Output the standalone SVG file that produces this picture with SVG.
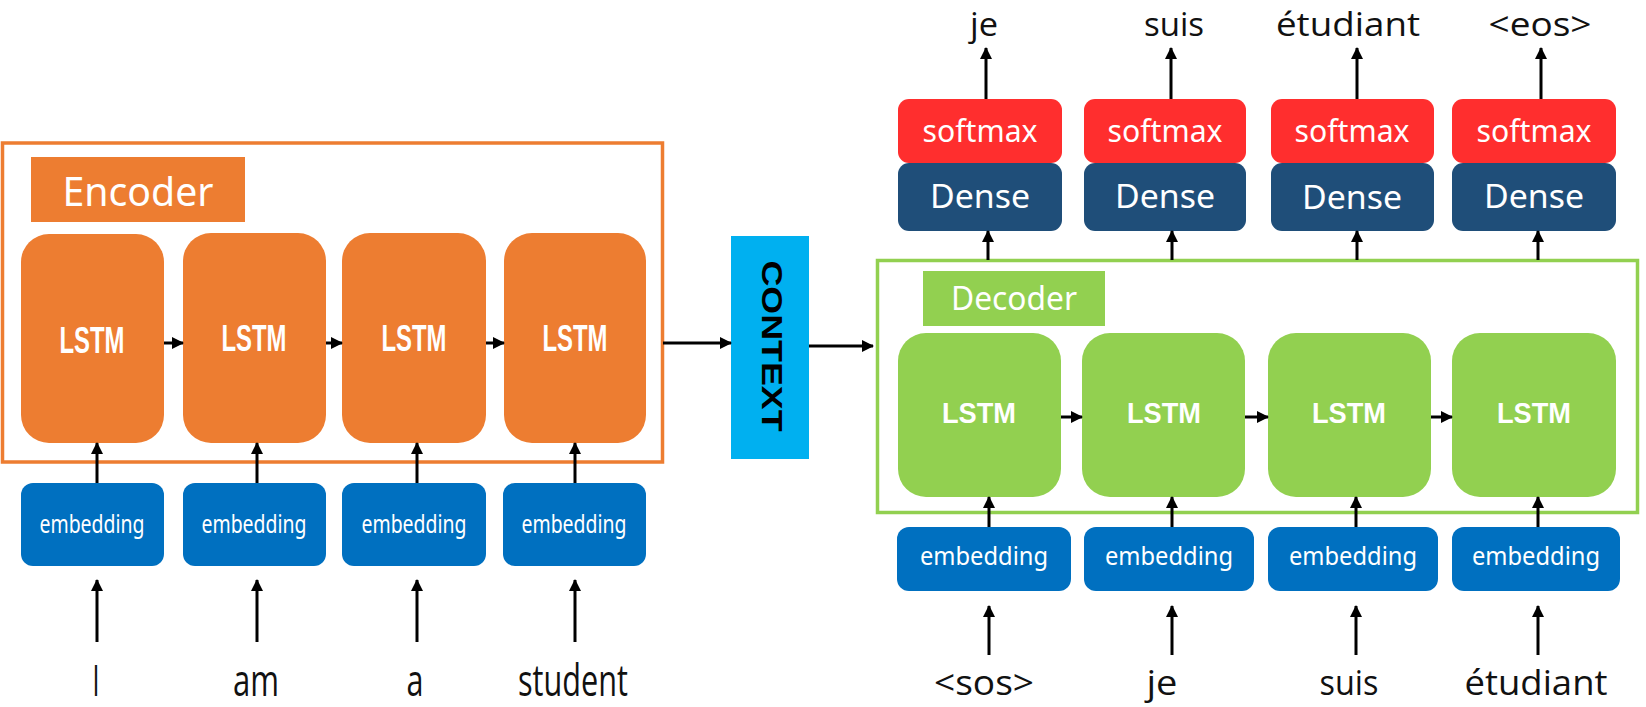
<svg xmlns="http://www.w3.org/2000/svg" width="1646" height="707" viewBox="0 0 1646 707">
<defs>
<marker id="ah" markerUnits="userSpaceOnUse" markerWidth="12" markerHeight="12" refX="11" refY="6" orient="auto">
<path d="M0,0 L12,6 L0,12 z" fill="#000"/>
</marker>
<style>
.enc-lstm{fill:#ED7D31}
.dec-lstm{fill:#92D050}
.emb{fill:#0070C0}
.dense{fill:#1F4E79}
.soft{fill:#FF2E2E}
.lbl{font-family:"Noto Sans","Open Sans","DejaVu Sans",sans-serif;fill:#fff;text-anchor:middle}
.bold{font-family:"Liberation Sans","Noto Sans",sans-serif;font-weight:bold;fill:#fff;text-anchor:middle}
.word{font-family:"Open Sans","Noto Sans","DejaVu Sans",sans-serif;fill:#111;text-anchor:middle}
.conn line{stroke:#000;stroke-width:3;marker-end:url(#ah)}
</style>
</defs>
<rect width="1646" height="707" fill="#fff"/>

<g id="encoder">
<rect x="2.5" y="143" width="660" height="319" fill="none" stroke="#ED7D31" stroke-width="3.5"/>
<rect x="31" y="157" width="214" height="65" fill="#ED7D31"/>
<text class="lbl" x="138" y="206" font-size="40" textLength="151" lengthAdjust="spacingAndGlyphs">Encoder</text>
</g>

<g id="enc-lstm-1"><rect class="enc-lstm" x="21" y="234" width="143" height="209" rx="28"/><text class="bold" x="92" y="353" font-size="36" textLength="65" lengthAdjust="spacingAndGlyphs">LSTM</text></g>
<g id="enc-lstm-2"><rect class="enc-lstm" x="183" y="233" width="143" height="210" rx="28"/><text class="bold" x="254" y="351" font-size="36" textLength="65" lengthAdjust="spacingAndGlyphs">LSTM</text></g>
<g id="enc-lstm-3"><rect class="enc-lstm" x="342" y="233" width="144" height="210" rx="28"/><text class="bold" x="414" y="351" font-size="36" textLength="65" lengthAdjust="spacingAndGlyphs">LSTM</text></g>
<g id="enc-lstm-4"><rect class="enc-lstm" x="504" y="233" width="142" height="210" rx="28"/><text class="bold" x="575" y="351" font-size="36" textLength="65" lengthAdjust="spacingAndGlyphs">LSTM</text></g>

<g id="enc-emb-1"><rect class="emb" x="21" y="483" width="143" height="83" rx="12"/><text class="lbl" x="92" y="533" font-size="25" textLength="105" lengthAdjust="spacingAndGlyphs">embedding</text></g>
<g id="enc-emb-2"><rect class="emb" x="183" y="483" width="143" height="83" rx="12"/><text class="lbl" x="254" y="533" font-size="25" textLength="105" lengthAdjust="spacingAndGlyphs">embedding</text></g>
<g id="enc-emb-3"><rect class="emb" x="342" y="483" width="144" height="83" rx="12"/><text class="lbl" x="414" y="533" font-size="25" textLength="105" lengthAdjust="spacingAndGlyphs">embedding</text></g>
<g id="enc-emb-4"><rect class="emb" x="503" y="483" width="143" height="83" rx="12"/><text class="lbl" x="574" y="533" font-size="25" textLength="105" lengthAdjust="spacingAndGlyphs">embedding</text></g>

<g id="enc-words">
<text class="word" x="96" y="696" font-size="44" textLength="7" lengthAdjust="spacingAndGlyphs">I</text>
<text class="word" x="256" y="696" font-size="44" textLength="46" lengthAdjust="spacingAndGlyphs">am</text>
<text class="word" x="415" y="696" font-size="44" textLength="17" lengthAdjust="spacingAndGlyphs">a</text>
<text class="word" x="573" y="696" font-size="44" textLength="110" lengthAdjust="spacingAndGlyphs">student</text>
</g>

<g id="context">
<rect x="731" y="236" width="78" height="223" fill="#00B0F0"/>
<text transform="translate(762,346) rotate(90)" x="0" y="0" font-family="Liberation Sans,Arial,sans-serif" font-weight="bold" font-size="29" fill="#000" text-anchor="middle" textLength="171" lengthAdjust="spacingAndGlyphs">CONTEXT</text>
</g>

<g id="decoder">
<rect x="877.5" y="260.5" width="760" height="252" fill="none" stroke="#92D050" stroke-width="3.5"/>
<rect x="923" y="271" width="182" height="55" fill="#92D050"/>
<text class="lbl" x="1014" y="310" font-size="32" textLength="126" lengthAdjust="spacingAndGlyphs">Decoder</text>
</g>

<g id="dec-lstm-1"><rect class="dec-lstm" x="898" y="333" width="163" height="164" rx="28"/><text class="bold" x="979" y="423" font-size="30" textLength="74" lengthAdjust="spacingAndGlyphs">LSTM</text></g>
<g id="dec-lstm-2"><rect class="dec-lstm" x="1082" y="333" width="163" height="164" rx="28"/><text class="bold" x="1164" y="423" font-size="30" textLength="74" lengthAdjust="spacingAndGlyphs">LSTM</text></g>
<g id="dec-lstm-3"><rect class="dec-lstm" x="1268" y="333" width="163" height="164" rx="28"/><text class="bold" x="1349" y="423" font-size="30" textLength="74" lengthAdjust="spacingAndGlyphs">LSTM</text></g>
<g id="dec-lstm-4"><rect class="dec-lstm" x="1452" y="333" width="164" height="164" rx="28"/><text class="bold" x="1534" y="423" font-size="30" textLength="74" lengthAdjust="spacingAndGlyphs">LSTM</text></g>

<g id="dense-1"><rect class="dense" x="898" y="163" width="164" height="68" rx="11"/><text class="lbl" x="980" y="208" font-size="32" textLength="100" lengthAdjust="spacingAndGlyphs">Dense</text></g>
<g id="dense-2"><rect class="dense" x="1084" y="163" width="162" height="68" rx="11"/><text class="lbl" x="1165" y="208" font-size="32" textLength="100" lengthAdjust="spacingAndGlyphs">Dense</text></g>
<g id="dense-3"><rect class="dense" x="1271" y="163" width="163" height="68" rx="11"/><text class="lbl" x="1352" y="209" font-size="32" textLength="100" lengthAdjust="spacingAndGlyphs">Dense</text></g>
<g id="dense-4"><rect class="dense" x="1452" y="163" width="164" height="68" rx="11"/><text class="lbl" x="1534" y="208" font-size="32" textLength="100" lengthAdjust="spacingAndGlyphs">Dense</text></g>

<g id="softmax-1"><rect class="soft" x="898" y="99" width="164" height="64" rx="11"/><text class="lbl" x="980" y="142" font-size="30" textLength="115" lengthAdjust="spacingAndGlyphs">softmax</text></g>
<g id="softmax-2"><rect class="soft" x="1084" y="99" width="162" height="64" rx="11"/><text class="lbl" x="1165" y="142" font-size="30" textLength="115" lengthAdjust="spacingAndGlyphs">softmax</text></g>
<g id="softmax-3"><rect class="soft" x="1271" y="99" width="163" height="64" rx="11"/><text class="lbl" x="1352" y="142" font-size="30" textLength="115" lengthAdjust="spacingAndGlyphs">softmax</text></g>
<g id="softmax-4"><rect class="soft" x="1452" y="99" width="164" height="64" rx="11"/><text class="lbl" x="1534" y="142" font-size="30" textLength="115" lengthAdjust="spacingAndGlyphs">softmax</text></g>

<g id="dec-emb-1"><rect class="emb" x="897" y="527" width="174" height="64" rx="12"/><text class="lbl" x="984" y="565" font-size="25" textLength="128" lengthAdjust="spacingAndGlyphs">embedding</text></g>
<g id="dec-emb-2"><rect class="emb" x="1084" y="527" width="170" height="64" rx="12"/><text class="lbl" x="1169" y="565" font-size="25" textLength="128" lengthAdjust="spacingAndGlyphs">embedding</text></g>
<g id="dec-emb-3"><rect class="emb" x="1268" y="527" width="170" height="64" rx="12"/><text class="lbl" x="1353" y="565" font-size="25" textLength="128" lengthAdjust="spacingAndGlyphs">embedding</text></g>
<g id="dec-emb-4"><rect class="emb" x="1452" y="527" width="168" height="64" rx="12"/><text class="lbl" x="1536" y="565" font-size="25" textLength="128" lengthAdjust="spacingAndGlyphs">embedding</text></g>

<g id="dec-inputs">
<text class="word" x="984" y="695" font-size="34" textLength="100" lengthAdjust="spacingAndGlyphs">&lt;sos&gt;</text>
<text class="word" x="1162" y="695" font-size="34" textLength="31" lengthAdjust="spacingAndGlyphs">je</text>
<text class="word" x="1349" y="695" font-size="34" textLength="59" lengthAdjust="spacingAndGlyphs">suis</text>
<text class="word" x="1536" y="695" font-size="34" textLength="143" lengthAdjust="spacingAndGlyphs">étudiant</text>
</g>

<g id="dec-outputs">
<text class="word" x="984" y="36" font-size="32" textLength="28" lengthAdjust="spacingAndGlyphs">je</text>
<text class="word" x="1174" y="36" font-size="32" textLength="60" lengthAdjust="spacingAndGlyphs">suis</text>
<text class="word" x="1348" y="36" font-size="32" textLength="144" lengthAdjust="spacingAndGlyphs">étudiant</text>
<text class="word" x="1540" y="36" font-size="32" textLength="103" lengthAdjust="spacingAndGlyphs">&lt;eos&gt;</text>
</g>

<g id="connectors" class="conn">
<line x1="164" y1="343" x2="183" y2="343"/>
<line x1="326" y1="343" x2="342" y2="343"/>
<line x1="486" y1="343" x2="504" y2="343"/>
<line x1="97" y1="483" x2="97" y2="443"/>
<line x1="257" y1="483" x2="257" y2="443"/>
<line x1="417" y1="483" x2="417" y2="443"/>
<line x1="575" y1="483" x2="575" y2="443"/>
<line x1="97" y1="642" x2="97" y2="580"/>
<line x1="257" y1="642" x2="257" y2="580"/>
<line x1="417" y1="642" x2="417" y2="580"/>
<line x1="575" y1="642" x2="575" y2="580"/>
<line x1="663" y1="343" x2="731" y2="343"/>
<line x1="809" y1="346" x2="873" y2="346"/>
<line x1="1061" y1="417" x2="1082" y2="417"/>
<line x1="1245" y1="417" x2="1268" y2="417"/>
<line x1="1431" y1="417" x2="1452" y2="417"/>
<line x1="989" y1="527" x2="989" y2="497"/>
<line x1="1172" y1="527" x2="1172" y2="497"/>
<line x1="1356" y1="527" x2="1356" y2="497"/>
<line x1="1538" y1="527" x2="1538" y2="497"/>
<line x1="989" y1="655" x2="989" y2="606"/>
<line x1="1172" y1="655" x2="1172" y2="606"/>
<line x1="1356" y1="655" x2="1356" y2="606"/>
<line x1="1538" y1="655" x2="1538" y2="606"/>
<line x1="988" y1="260" x2="988" y2="231"/>
<line x1="1172" y1="260" x2="1172" y2="231"/>
<line x1="1357" y1="260" x2="1357" y2="231"/>
<line x1="1538" y1="260" x2="1538" y2="231"/>
<line x1="986" y1="99" x2="986" y2="48"/>
<line x1="1171" y1="99" x2="1171" y2="48"/>
<line x1="1357" y1="99" x2="1357" y2="48"/>
<line x1="1541" y1="99" x2="1541" y2="48"/>
</g>
</svg>
